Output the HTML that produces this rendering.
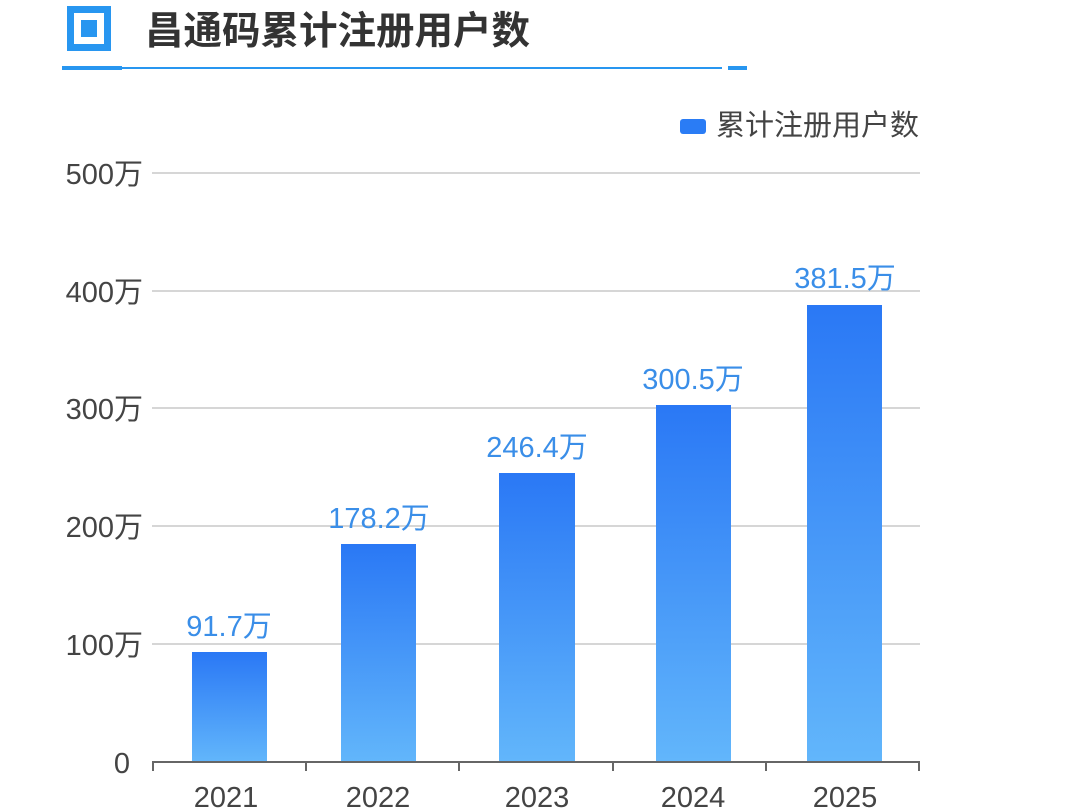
<!DOCTYPE html>
<html><head><meta charset="utf-8"><style>
body{margin:0;background:#fff;width:1080px;height:810px;overflow:hidden;font-family:"Liberation Sans","Noto Sans CJK SC",sans-serif}
</style></head><body>
<svg width="1080" height="810" xmlns="http://www.w3.org/2000/svg" style="position:absolute;left:0;top:0">
<defs><linearGradient id="g" x1="0" y1="0" x2="0" y2="1"><stop offset="0" stop-color="#2a78f5"/><stop offset="1" stop-color="#62b6fb"/></linearGradient></defs>
<rect x="67" y="6" width="44" height="45" fill="#2896f0"/>
<rect x="74" y="13" width="30" height="31" fill="#fff"/>
<rect x="81" y="20" width="16" height="17" fill="#2896f0"/>
<text x="145" y="44" font-size="38.5" font-weight="bold" fill="#333" font-family="'Noto Sans CJK SC',sans-serif">昌通码累计注册用户数</text>
<rect x="62" y="66" width="60" height="4" fill="#2896f0"/>
<rect x="122" y="67" width="600" height="2" fill="#2896f0"/>
<rect x="728" y="66" width="19" height="4" fill="#2896f0"/>
<rect x="680" y="119" width="26" height="15" rx="3" fill="#2a7cf5"/>
<text x="716" y="135" font-size="29" fill="#444" font-family="'Noto Sans CJK SC',sans-serif">累计注册用户数</text>
<g stroke="#d6d6d6" stroke-width="2">
<line x1="152" y1="173" x2="920" y2="173"/><line x1="152" y1="291" x2="920" y2="291"/><line x1="152" y1="408" x2="920" y2="408"/><line x1="152" y1="526" x2="920" y2="526"/><line x1="152" y1="644" x2="920" y2="644"/>
</g>
<g font-size="29" fill="#444" text-anchor="end" font-family="'Liberation Sans','Noto Sans CJK SC',sans-serif">
<text x="143" y="184">500万</text><text x="143" y="302">400万</text><text x="143" y="419">300万</text><text x="143" y="537">200万</text><text x="143" y="655">100万</text><text x="130" y="773">0</text>
</g>
<g fill="url(#g)">
<rect x="192" y="652" width="75" height="110"/>
<rect x="341" y="544" width="75" height="218"/>
<rect x="499" y="473" width="76" height="289"/>
<rect x="656" y="405" width="75" height="357"/>
<rect x="807" y="305" width="75" height="457"/>
</g>
<g stroke="#666" stroke-width="2">
<line x1="152" y1="762" x2="920" y2="762"/>
<line x1="153" y1="762" x2="153" y2="771"/><line x1="306" y1="762" x2="306" y2="771"/><line x1="459" y1="762" x2="459" y2="771"/><line x1="613" y1="762" x2="613" y2="771"/><line x1="766" y1="762" x2="766" y2="771"/><line x1="919" y1="762" x2="919" y2="771"/>
</g>
<g font-size="29" fill="#444" text-anchor="middle">
<text x="226" y="807">2021</text><text x="378" y="807">2022</text><text x="537" y="807">2023</text><text x="693" y="807">2024</text><text x="845" y="807">2025</text>
</g>
<g font-size="29" fill="#3a8ee8" text-anchor="middle" font-family="'Liberation Sans','Noto Sans CJK SC',sans-serif">
<text x="229" y="636">91.7万</text><text x="379" y="528">178.2万</text><text x="537" y="457">246.4万</text><text x="693" y="389">300.5万</text><text x="845" y="288">381.5万</text>
</g>
</svg>
</body></html>
